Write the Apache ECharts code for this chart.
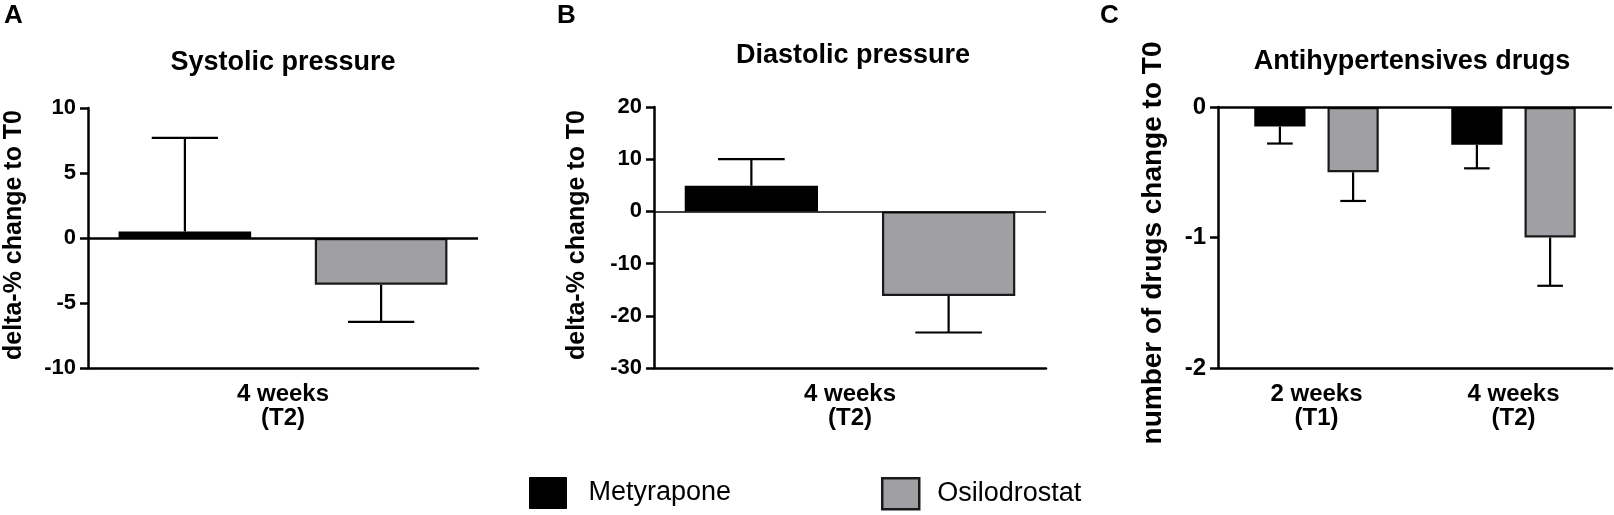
<!DOCTYPE html>
<html>
<head>
<meta charset="utf-8">
<script src="https://cdn.jsdelivr.net/npm/echarts@6/dist/echarts.min.js"></script>
<style>
html,body{margin:0;padding:0;background:#fff;}
#chart{width:1614px;height:515px;}
</style>
</head>
<body>
<div id="chart"></div>
<script>
// ---- data ----
const groups = ['Metyrapone', 'Osilodrostat'];
const panelLetters = ['A', 'B', 'C'];
const panelTitles = ['Systolic pressure', 'Diastolic pressure', 'Antihypertensives drugs'];
const yNames = ['delta-% change to T0', 'delta-% change to T0', 'number of drugs change to T0'];

const sysCats = ['4 weeks\n(T2)'];
const sysMet = [0.5];
const sysMetErr = [7.2];
const sysOsi = [-3.6];
const sysOsiErr = [2.85];

const diaCats = ['4 weeks\n(T2)'];
const diaMet = [4.9];
const diaMetErr = [5.1];
const diaOsi = [-16.2];
const diaOsiErr = [7.0];

const drugCats = ['2 weeks\n(T1)', '4 weeks\n(T2)'];
const drugMet = [-0.15, -0.29];
const drugMetErr = [0.13, 0.18];
const drugOsi = [-0.5, -1.0];
const drugOsiErr = [0.22, 0.37];

const sysTicks = {min: -10, max: 10, interval: 5};
const diaTicks = {min: -30, max: 20, interval: 10};
const drugTicks = {min: -2, max: 0, interval: 1};

// ---- styling ----
const FONT = "'Liberation Sans', Arial, sans-serif";
const BLACK = '#000000';
const GRAY = '#a09fa4';
const EDGE = '#1a1a1a';

const panels = [
  {cats: sysCats, met: sysMet, metErr: sysMetErr, osi: sysOsi, osiErr: sysOsiErr, ticks: sysTicks,
   grid: {left: 88, top: 108, width: 390, height: 260}, barW: 0.34, gap: 0.48, zeroW: 2.5, tickFont: 22},
  {cats: diaCats, met: diaMet, metErr: diaMetErr, osi: diaOsi, osiErr: diaOsiErr, ticks: diaTicks,
   grid: {left: 654, top: 107, width: 392, height: 261}, barW: 0.34, gap: 0.48, zeroW: 1.6, tickFont: 22},
  {cats: drugCats, met: drugMet, metErr: drugMetErr, osi: drugOsi, osiErr: drugOsiErr, ticks: drugTicks,
   grid: {left: 1218, top: 107, width: 394, height: 261}, barW: 0.26, gap: 0.43, zeroW: 2.5, tickFont: 24}
];

const grids = [], xAxes = [], yAxes = [], series = [];

function errorSeries(name, idx, means, errs, offsetFrac, barFrac) {
  return {
    type: 'custom', name: name + ' SEM', xAxisIndex: idx, yAxisIndex: idx, z: 5,
    silent: true,
    data: means.map((m, i) => [i, m, errs[i]]),
    encode: {x: 0, y: 1},
    renderItem: function (params, api) {
      const ci = api.value(0), m = api.value(1), e = api.value(2);
      const sign = m >= 0 ? 1 : -1;
      const catW = api.size([1, 0])[0];
      const p0 = api.coord([ci, m]);
      const p1 = api.coord([ci, m + sign * e]);
      const x = p0[0] + offsetFrac * catW;
      const half = barFrac * catW / 4;
      const st = {stroke: '#000', lineWidth: 2.2};
      return {type: 'group', children: [
        {type: 'line', shape: {x1: x, y1: p0[1], x2: x, y2: p1[1]}, style: st},
        {type: 'line', shape: {x1: x - half, y1: p1[1], x2: x + half, y2: p1[1]}, style: st}
      ]};
    }
  };
}

panels.forEach((p, idx) => {
  grids.push(Object.assign({containLabel: false}, p.grid));
  xAxes.push({
    type: 'category', gridIndex: idx, data: p.cats,
    axisLine: {onZero: false, lineStyle: {color: '#000', width: 2.5}},
    axisTick: {alignWithLabel: true, length: 7, lineStyle: {color: '#000', width: 2.5}},
    axisLabel: {color: '#000', fontFamily: FONT, fontWeight: 'bold', fontSize: 24, lineHeight: 24, margin: 14},
    splitLine: {show: false}
  });
  yAxes.push({
    type: 'value', gridIndex: idx, min: p.ticks.min, max: p.ticks.max, interval: p.ticks.interval,
    axisLine: {show: true, lineStyle: {color: '#000', width: 2.5}},
    axisTick: {show: true, length: 8, lineStyle: {color: '#000', width: 2.5}},
    axisLabel: {color: '#000', fontFamily: FONT, fontWeight: 'bold', fontSize: p.tickFont, margin: 12},
    splitLine: {show: false}
  });
  const gapFrac = p.barW * p.gap;
  const off = (p.barW + gapFrac) / 2;
  series.push({
    type: 'bar', name: groups[0], xAxisIndex: idx, yAxisIndex: idx,
    data: p.met, barWidth: (p.barW * 100) + '%', barGap: (p.gap * 100) + '%',
    itemStyle: {color: BLACK, borderColor: BLACK, borderWidth: 1.5},
    markLine: {silent: true, symbol: 'none', label: {show: false}, animation: false,
      lineStyle: {color: '#000', width: p.zeroW, type: 'solid'}, emphasis: {disabled: true},
      data: [{yAxis: 0}]}
  });
  series.push({
    type: 'bar', name: groups[1], xAxisIndex: idx, yAxisIndex: idx,
    data: p.osi, barWidth: (p.barW * 100) + '%', barGap: (p.gap * 100) + '%',
    itemStyle: {color: GRAY, borderColor: EDGE, borderWidth: 2.2}
  });
  series.push(errorSeries(groups[0], idx, p.met, p.metErr, -off, p.barW));
  series.push(errorSeries(groups[1], idx, p.osi, p.osiErr, off, p.barW));
});

const letterPos = [[4, 16], [557, 16], [1100, 16]];
const titlePos = [[283, 63], [853, 56], [1412, 62]];
const yNamePos = [[14, 235, 25], [577, 235, 25], [1153, 243, 28]];
const graphics = [];
panelLetters.forEach((t, i) => {
  graphics.push({type: 'text', left: letterPos[i][0], top: letterPos[i][1] - 13,
    style: {text: t, font: 'bold 26px ' + FONT, fill: '#000'}});
});
panelTitles.forEach((t, i) => {
  graphics.push({type: 'text', x: titlePos[i][0], y: titlePos[i][1],
    style: {text: t, font: 'bold 27px ' + FONT, fill: '#000', textAlign: 'center', textVerticalAlign: 'middle'}});
});
yNames.forEach((t, i) => {
  graphics.push({type: 'text', x: yNamePos[i][0], y: yNamePos[i][1], rotation: Math.PI / 2,
    style: {text: t, font: 'bold ' + yNamePos[i][2] + 'px ' + FONT, fill: '#000', textAlign: 'center', textVerticalAlign: 'middle'}});
});

const legendCommon = {
  top: 472, orient: 'horizontal', icon: 'rect', itemWidth: 37, itemHeight: 31,
  selectedMode: false,
  textStyle: {color: '#000', fontFamily: FONT, fontSize: 27, padding: [0, 0, 0, 17]}
};

const option = {
  animation: false,
  backgroundColor: '#fff',
  grid: grids,
  xAxis: xAxes,
  yAxis: yAxes,
  series: series,
  graphic: graphics,
  legend: [
    Object.assign({}, legendCommon, {left: 524, data: [{name: groups[0], itemStyle: {color: BLACK, borderColor: BLACK, borderWidth: 1}}]}),
    Object.assign({}, legendCommon, {left: 876, textStyle: Object.assign({}, legendCommon.textStyle, {padding: [0, 0, 0, 13]}),
      data: [{name: groups[1], itemStyle: {color: GRAY, borderColor: EDGE, borderWidth: 2.5}}]})
  ]
};

const chart = echarts.init(document.getElementById('chart'), null, {renderer: 'canvas'});
chart.setOption(option);
</script>
</body>
</html>
